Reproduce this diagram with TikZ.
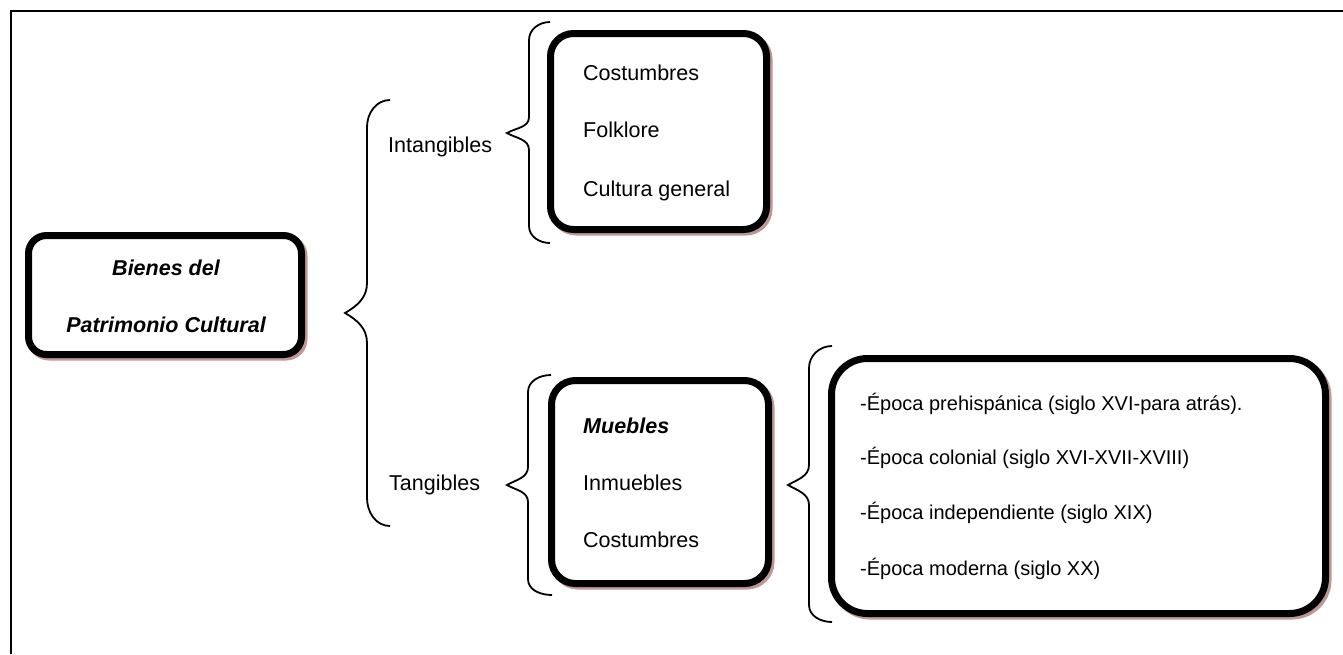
\documentclass[tikz,border=0pt]{standalone}
\usepackage{fontspec}
\setmainfont{Liberation Sans}
\definecolor{shadowc}{RGB}{190,150,150}
\tikzset{
  box/.style={draw=black, fill=white, line width=7pt, rounded corners=#1, inner sep=0pt,
    preaction={draw=shadowc, line width=7pt, transform canvas={xshift=2.5pt,yshift=-2.5pt}}},
  brace/.style={draw=black, line width=1.8pt},
  txt/.style={anchor=base west, inner sep=0pt, font=\fontsize{21.5}{26}\selectfont},
  txtc/.style={anchor=base, inner sep=0pt, font=\fontsize{21.5}{26}\selectfont\bfseries\itshape},
  txtb/.style={anchor=base west, inner sep=0pt, font=\fontsize{20}{24}\selectfont},
}
\begin{document}
\begin{tikzpicture}[x=1pt,y=-1pt]
\useasboundingbox (0,0) rectangle (1343,654);
% frame
\draw[line width=2pt] (11,654) -- (11,11) -- (1343,11);

% boxes
\node[box=18pt, minimum width=273pt, minimum height=119pt] (bienes) at (165,295) {};
\node[box=23pt, minimum width=216pt, minimum height=196pt] (intbox) at (658.5,131.5) {};
\node[box=24pt, minimum width=217pt, minimum height=203pt] (tanbox) at (660,482) {};
\node[box=36pt, minimum width=494pt, minimum height=255pt] (epbox) at (1078.5,486) {};

% main box text
\node[txtc] (b1) at (166,275) {Bienes del};
\node[txtc] (b2) at (166,332) {Patrimonio Cultural};

% labels
\node[txt] (intang) at (388,152) {Intangibles};
\node[txt] (tang) at (389,490) {Tangibles};

% intangibles list
\node[txt] (i1) at (583,80) {Costumbres};
\node[txt] (i2) at (583,137) {Folklore};
\node[txt] (i3) at (583,196) {Cultura general};

% tangibles list
\node[txt, font=\fontsize{21.5}{26}\selectfont\bfseries\itshape] (t1) at (583,433) {Muebles};
\node[txt] (t2) at (583,490) {Inmuebles};
\node[txt] (t3) at (583,547) {Costumbres};

% epocas
\node[txtb] (e1) at (860,410) {-Época prehispánica (siglo XVI-para atrás).};
\node[txtb] (e2) at (860,464) {-Época colonial (siglo XVI-XVII-XVIII)};
\node[txtb] (e3) at (860,519) {-Época independiente (siglo XIX)};
\node[txtb] (e4) at (860,575) {-Época moderna (siglo XX)};

% braces
\draw[brace] (390,100) to[out=180,in=90] (367,127) -- (367,283) to[out=-90,in=30] (345,313)
  to[out=-30,in=90] (367,343) -- (367,498) to[out=-90,in=180] (390,526);
\draw[brace] (550,22) to[out=180,in=90] (529,40) -- (529,117) to[out=-90,in=30] (507,133)
  to[out=-30,in=90] (529,150) -- (529,226) to[out=-90,in=180] (550,243);
\draw[brace] (551,375) to[out=180,in=90] (528,392) -- (528,467) to[out=-90,in=30] (507,485)
  to[out=-30,in=90] (528,502) -- (528,579) to[out=-90,in=180] (552,595);
\draw[brace] (832,346) to[out=180,in=90] (809,368) -- (809,465) to[out=-90,in=30] (788,485)
  to[out=-30,in=90] (809,505) -- (809,605) to[out=-90,in=180] (832,622);
\end{tikzpicture}
\end{document}
